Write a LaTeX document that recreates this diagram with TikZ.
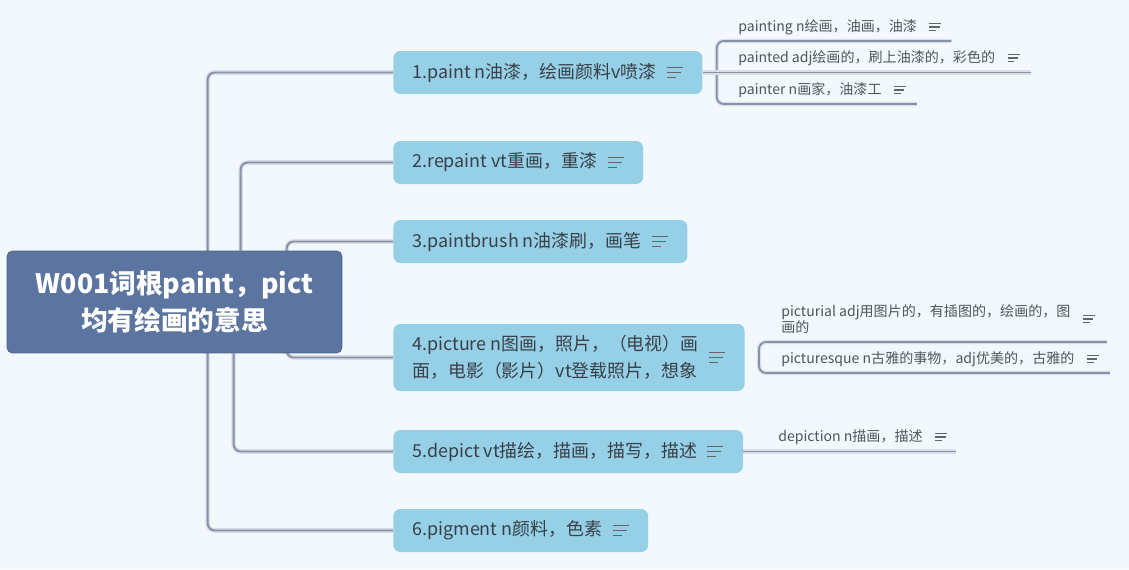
\documentclass[tikz,border=0pt]{standalone}
\usepackage{fontspec}
\usetikzlibrary{calc,positioning,backgrounds}
\newfontfamily\cjk{Noto Sans CJK SC}
\definecolor{paperbg}{HTML}{F3F8FD}
\definecolor{rootblue}{HTML}{5B74A0}
\definecolor{boxblue}{HTML}{95D0E7}
\definecolor{linkgray}{HTML}{8792AA}
\definecolor{textdark}{HTML}{3A3F47}
\definecolor{subtext}{HTML}{50555E}
\tikzset{
  rootbox/.style={fill=rootblue,draw=rootblue!85!black,rounded corners=3pt,text=white,align=center,
    minimum width=6.7cm,minimum height=2.04cm,font=\cjk\bfseries\fontsize{15.2}{21}\selectfont},
  mainbox/.style={anchor=west,fill=boxblue,rounded corners=4pt,text=textdark,align=left,
    inner xsep=0.38cm,minimum height=0.86cm,font=\cjk\fontsize{10.2}{15.3}\selectfont,
    execute at end node={\hspace*{0.54cm}}},
  subnode/.style={anchor=west,inner sep=0pt,text=subtext,align=left,font=\cjk\fontsize{8}{9.2}\selectfont},
  link/.style={linkgray,line width=1.1pt,rounded corners=4pt,preaction={draw=linkgray!30,line width=2.6pt}},
  sublink/.style={linkgray,line width=1pt,rounded corners=4pt,preaction={draw=linkgray!30,line width=2.4pt}},
  iconline/.style={draw=textdark!80,line width=0.7pt},
  notes/.pic={\draw[iconline] (0,-5)--(16,-5) (0,0)--(14,0) (0,5)--(9,5);}
}

\begin{document}
\begin{tikzpicture}[x=0.02cm,y=-0.02cm]
\useasboundingbox (0,0) rectangle (1129,569);
% central topic
\node[rootbox] (root) at (174.5,302) {W001词根paint，pict\\均有绘画的意思};
% main branches
\node[mainbox] (b1) at (393,72.5) {1.paint n油漆，绘画颜料v喷漆};
\node[mainbox] (b2) at (393,162.5) {2.repaint vt重画，重漆};
\node[mainbox] (b3) at (393,241.5) {3.paintbrush n油漆刷，画笔};
\node[mainbox,minimum height=1.34cm] (b4) at (393,357.5) {4.picture n图画，照片，（电视）画\\面，电影（影片）vt登载照片，想象};
\node[mainbox] (b5) at (393,451.5) {5.depict vt描绘，描画，描写，描述};
\node[mainbox] (b6) at (393,530.5) {6.pigment n颜料，色素};
\foreach \b in {b1,b2,b3,b4,b5,b6}{
  \pic at ($(\b.east)+(-36,0)$) {notes};
}
% sub topics
\node[subnode] (s11) at (738,27) {painting n绘画，油画，油漆};
\node[subnode] (s12) at (738,58) {painted adj绘画的，刷上油漆的，彩色的};
\node[subnode] (s13) at (738,90) {painter n画家，油漆工};
\node[subnode] (s41) at (781,319) {picturial adj用图片的，有插图的，绘画的，图\\画的};
\node[subnode] (s42) at (781,359) {picturesque n古雅的事物，adj优美的，古雅的};
\node[subnode] (s51) at (778,437) {depiction n描画，描述};
\foreach \s in {s11,s12,s13,s41,s42,s51}{
  \pic[scale=0.75] at ($(\s.east)+(12,0)$) {notes};
}
\coordinate (u11) at ($(s11.east)+(34,14)$);
\coordinate (u12) at ($(s12.east)+(35,14)$);
\coordinate (u13) at ($(s13.east)+(35,14)$);
\coordinate (u41) at ($(s41.east)+(36,23)$);
\coordinate (u42) at ($(s42.east)+(35,14)$);
\coordinate (u51) at ($(s51.east)+(33,15)$);
\begin{scope}[on background layer]
\fill[paperbg] (0,0) rectangle (1129,569);
\draw[link] (b1.west) -| ($(root.west)+(201,0)$) |- (b6.west);
\draw[link] ($(root.north west)+(234,0)$) |- (b2.west);
\draw[link] (b3.west) -| ($(root.west)+(280,0)$) |- (b4.west);
\draw[link] ($(root.south west)+(227,0)$) |- (b5.west);
\draw[sublink] (u11) -| ($(b1.east)+(14,0)$) |- (u13);
\draw[sublink] (b1.east) -- (b1.east -| u12);
\draw[sublink] (u41) -| ($(b4.east)+(14,0)$) |- (u42);
\draw[sublink] (b5.east) -- (b5.east -| u51);
\end{scope}
\end{tikzpicture}
\end{document}
